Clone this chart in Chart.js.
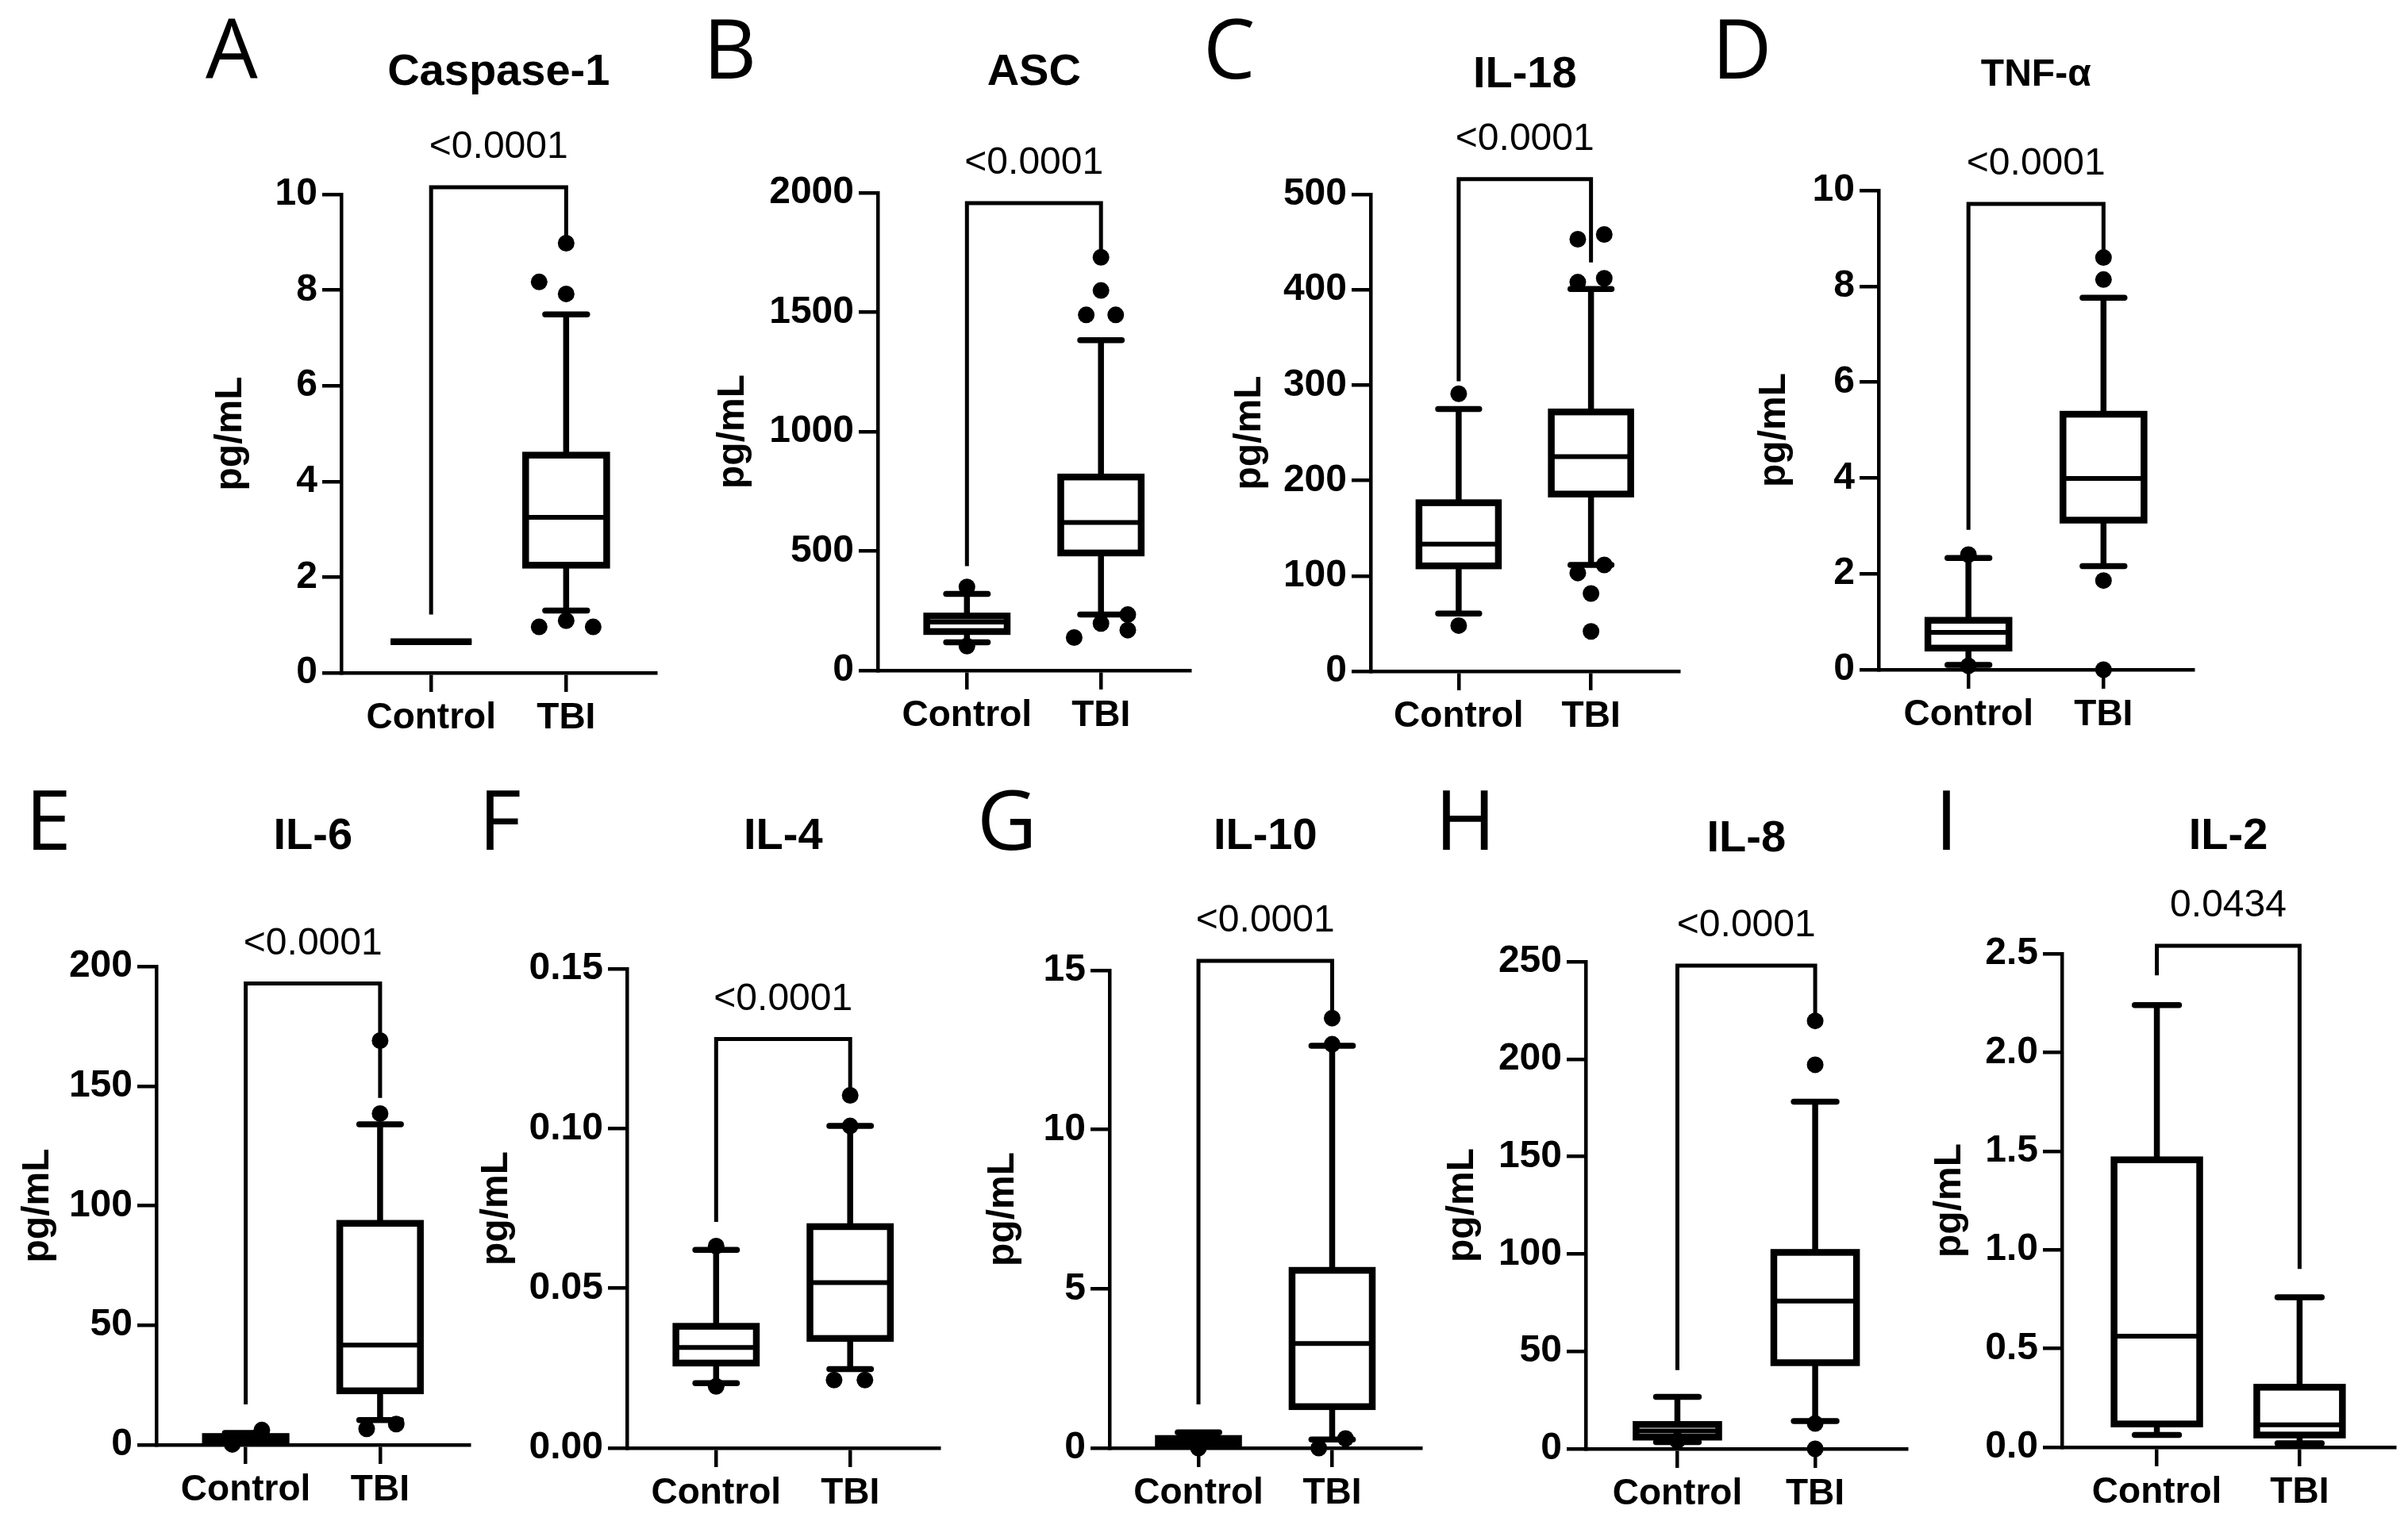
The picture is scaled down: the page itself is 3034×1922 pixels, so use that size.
<!DOCTYPE html>
<html>
<head>
<meta charset="utf-8">
<script src="https://cdn.jsdelivr.net/npm/chart.js@4.4.1/dist/chart.umd.min.js"></script>
<style>
  html, body { margin: 0; padding: 0; background: #fff; }
  #fig { position: relative; width: 3034px; height: 1922px; overflow: hidden; background: #fff; }
  #fig canvas { position: absolute; }
  .letter { position: absolute; font-family: 'Open Sans'; font-weight: 500; font-size: 104px; line-height: 1; color: #000; }
</style>
</head>
<body>
<div id="fig"></div>
<script>
const groups = ['Control', 'TBI'];
const panelLetters = ['A', 'B', 'C', 'D', 'E', 'F', 'G', 'H', 'I'];
const titles = ['Caspase-1', 'ASC', 'IL-18', 'TNF-α', 'IL-6', 'IL-4', 'IL-10', 'IL-8', 'IL-2'];
const pValues = ['<0.0001', '<0.0001', '<0.0001', '<0.0001', '<0.0001', '<0.0001', '<0.0001', '<0.0001', '0.0434'];
const yMax = [10, 2000, 500, 10, 200, 0.15, 15, 250, 2.5];
const yStep = [2, 500, 100, 2, 50, 0.05, 5, 50, 0.5];
const tickDecimals = [0, 0, 0, 0, 0, 2, 0, 0, 1];

// [min, q1, median, q3, max]
const controlStats = [
  [0.65, 0.65, 0.65, 0.65, 0.65],
  [118, 163, 203, 228, 321],
  [60.6, 110.5, 133.4, 176.7, 275],
  [0.1, 0.45, 0.78, 1.03, 2.33],
  [1.0, 1.3, 2.5, 3.5, 5.0],
  [0.0203, 0.0266, 0.0315, 0.0381, 0.062],
  [0.05, 0.12, 0.2, 0.3, 0.49],
  [3.5, 6, 9.2, 12.5, 26.7],
  [0.062, 0.118, 0.563, 1.456, 2.24]
];
const tbiStats = [
  [1.30, 2.25, 3.25, 4.55, 7.49],
  [234, 492, 620, 810, 1383],
  [111.5, 185.8, 225, 271.9, 400.7],
  [2.16, 3.12, 3.99, 5.33, 7.76],
  [10.4, 22.6, 41.7, 92.6, 134],
  [0.0247, 0.0343, 0.0518, 0.0693, 0.1008],
  [0.27, 1.3, 3.28, 5.58, 12.63],
  [14.2, 44.2, 75.8, 100.8, 178.1],
  [0.02, 0.062, 0.114, 0.304, 0.76]
];

// outliers: [group index + jitter, value]
const outliers = [
  [[1, 8.98], [0.8, 8.17], [1, 7.92], [0.8, 0.96], [1, 1.09], [1.2, 0.96]],
  [[0, 350], [0, 102], [1, 1730], [1, 1591], [0.89, 1489], [1.11, 1489], [1.2, 234], [1, 197], [1.2, 169], [0.8, 138]],
  [[0, 291], [0, 47.9], [0.9, 453], [1.1, 458], [0.9, 408], [1.1, 412], [0.9, 103], [1.1, 111.5], [1, 81.5], [1, 41.8]],
  [[0, 2.4], [0, 0.08], [1, 8.6], [1, 8.14], [1, 1.86], [1, 0]],
  [[0.12, 6.2], [-0.1, 0.2], [1, 169], [1, 138.5], [0.9, 6.7], [1.12, 8.7]],
  [[0, 0.0632], [0, 0.0193], [1, 0.1104], [1, 0.1008], [0.88, 0.0213], [1.11, 0.0213]],
  [[0, 0], [1, 13.5], [1, 12.68], [0.9, 0], [1.1, 0.3]],
  [[0, 4.2], [1, 219.6], [1, 197.1], [1, 13], [1, 0]],
  []
];

// significance bracket: [left leg end, top, right leg end]
const brackets = [
  [1.22, 10.15, 9.0],
  [437, 1957, 1730],
  [304, 516, 428.7],
  [2.92, 9.72, 8.45],
  [16.9, 192.9, 145],
  [0.0708, 0.128, 0.111],
  [1.37, 15.3, 13.75],
  [40.4, 248, 220],
  [2.39, 2.54, 0.903]
];

// page layout of each panel (pixels)
const frames = [
  { rowTop: 0, left: 261, axis: 430, end: 833, titleY: 92, top: 245, bottom: 848, letterX: 259, titleSize: 56 },
  { rowTop: 0, left: 894, axis: 1106, end: 1506, titleY: 92, top: 243, bottom: 845, letterX: 886, titleSize: 56 },
  { rowTop: 0, left: 1545, axis: 1727, end: 2122, titleY: 95, top: 245, bottom: 846, letterX: 1516, titleSize: 56 },
  { rowTop: 0, left: 2206, axis: 2367, end: 2770, titleY: 95, top: 240, bottom: 844, letterX: 2157, titleSize: 48 },
  { rowTop: 960, left: 18, axis: 197, end: 598, titleY: 1055, top: 1218, bottom: 1821, letterX: 32, titleSize: 56 },
  { rowTop: 960, left: 596, axis: 790, end: 1190, titleY: 1055, top: 1221, bottom: 1825, letterX: 603, titleSize: 56 },
  { rowTop: 960, left: 1234, axis: 1398, end: 1797, titleY: 1055, top: 1223, bottom: 1825, letterX: 1231, titleSize: 56 },
  { rowTop: 960, left: 1813, axis: 1998, end: 2409, titleY: 1058, top: 1212, bottom: 1826, letterX: 1808, titleSize: 56 },
  { rowTop: 960, left: 2427, axis: 2598, end: 3017, titleY: 1055, top: 1202, bottom: 1824, letterX: 2438, titleSize: 56 }
];
const letterCapTop = [25, 997];

const FONT = "'Liberation Sans', Arial, sans-serif";
const X_AXIS_H = 110;
const BOX_HALF = 0.30;
const CAP_HALF = 0.155;

const boxPlot = {
  id: 'boxPlot',
  beforeDatasetsDraw(chart, args, opts) {
    const { ctx, scales: { x, y } } = chart;
    const line = (x0, y0, x1, y1) => { ctx.beginPath(); ctx.moveTo(x0, y0); ctx.lineTo(x1, y1); ctx.stroke(); };
    ctx.save();
    ctx.strokeStyle = '#000';
    opts.stats.forEach((s, k) => {
      const [lo, q1, med, q3, hi] = s.map(v => y.getPixelForValue(v));
      const cx = x.getPixelForValue(k);
      const bw = x.getPixelForValue(k + BOX_HALF) - cx;
      const cw = x.getPixelForValue(k + CAP_HALF) - cx;
      ctx.lineWidth = 7.5;
      ctx.lineCap = 'butt';
      line(cx, lo, cx, hi);
      ctx.lineCap = 'round';
      line(cx - cw, lo, cx + cw, lo);
      line(cx - cw, hi, cx + cw, hi);
      ctx.lineCap = 'butt';
      ctx.lineWidth = 8.5;
      ctx.fillStyle = '#fff';
      ctx.fillRect(cx - bw, q3, 2 * bw, q1 - q3);
      ctx.strokeRect(cx - bw, q3, 2 * bw, q1 - q3);
      ctx.lineWidth = 6;
      line(cx - bw, med, cx + bw, med);
    });
    ctx.restore();
  },
  afterDatasetsDraw(chart, args, opts) {
    const { ctx, scales: { x, y } } = chart;
    const [lv, tv, rv] = opts.bracket;
    const x0 = x.getPixelForValue(0);
    const x1 = x.getPixelForValue(1);
    const yt = y.getPixelForValue(tv);
    ctx.save();
    ctx.strokeStyle = '#000';
    ctx.lineWidth = 5;
    ctx.beginPath();
    ctx.moveTo(x0, y.getPixelForValue(lv));
    ctx.lineTo(x0, yt);
    ctx.lineTo(x1, yt);
    ctx.lineTo(x1, y.getPixelForValue(rv));
    ctx.stroke();
    ctx.fillStyle = '#000';
    ctx.font = '48px ' + FONT;
    ctx.textAlign = 'center';
    ctx.textBaseline = 'middle';
    ctx.fillText(opts.label, (x0 + x1) / 2, yt - 50);
    ctx.restore();
  }
};

const fig = document.getElementById('fig');

panelLetters.forEach((letter, i) => {
  const f = frames[i];

  const div = document.createElement('div');
  div.className = 'letter';
  div.textContent = letter;
  div.style.left = f.letterX + 'px';
  div.style.top = (letterCapTop[f.rowTop ? 1 : 0] - 18) + 'px';
  fig.appendChild(div);

  const canvas = document.createElement('canvas');
  const w = f.end - f.left + 4;
  const h = f.bottom - f.rowTop + X_AXIS_H;
  canvas.width = w;
  canvas.height = h;
  canvas.style.left = f.left + 'px';
  canvas.style.top = f.rowTop + 'px';
  canvas.style.width = w + 'px';
  canvas.style.height = h + 'px';
  fig.appendChild(canvas);

  const titleLH = f.titleSize * 1.2;
  const padTop = f.titleY - f.rowTop - titleLH / 2;
  const padBottom = f.top - f.rowTop - padTop - titleLH;

  new Chart(canvas, {
    type: 'scatter',
    data: {
      datasets: [{
        data: outliers[i].map(p => ({ x: p[0], y: p[1] })),
        backgroundColor: '#000',
        borderColor: '#000',
        borderWidth: 0,
        pointRadius: 10.5,
        pointHoverRadius: 10.5,
        clip: false
      }]
    },
    options: {
      responsive: false,
      animation: false,
      devicePixelRatio: 1,
      events: [],
      layout: { padding: { left: 0, right: 4, top: 0, bottom: 0 } },
      plugins: {
        legend: { display: false },
        tooltip: { enabled: false },
        title: {
          display: true,
          text: titles[i],
          fullSize: false,
          color: '#000',
          font: { family: FONT, size: f.titleSize, weight: 'bold', lineHeight: 1.2 },
          padding: { top: padTop, bottom: padBottom }
        },
        boxPlot: {
          stats: [controlStats[i], tbiStats[i]],
          bracket: brackets[i],
          label: pValues[i]
        }
      },
      scales: {
        x: {
          type: 'linear',
          bounds: 'data',
          min: -0.665,
          max: 1.665,
          afterBuildTicks: s => { s.ticks = groups.map((g, k) => ({ value: k })); },
          afterFit: s => { s.height = X_AXIS_H; },
          ticks: {
            callback: v => groups[v],
            color: '#000',
            font: { family: FONT, size: 46, weight: 'bold' },
            padding: 6,
            autoSkip: false,
            maxRotation: 0
          },
          grid: { drawOnChartArea: false, tickLength: 24, lineWidth: 4.5, color: '#000' },
          border: { display: true, color: '#000', width: 4.5 }
        },
        y: {
          min: 0,
          max: yMax[i],
          afterFit: s => { s.width = f.axis - f.left; },
          ticks: {
            stepSize: yStep[i],
            callback: v => v.toFixed(tickDecimals[i]),
            color: '#000',
            font: { family: FONT, size: 48, weight: 'bold' },
            padding: 6
          },
          grid: { drawOnChartArea: false, tickLength: 24, lineWidth: 4.5, color: '#000' },
          border: { display: true, color: '#000', width: 4.5 },
          title: {
            display: true,
            text: 'pg/mL',
            color: '#000',
            font: { family: FONT, size: 48, weight: 'bold', lineHeight: 1.2 },
            padding: { top: 1, bottom: 0 }
          }
        }
      }
    },
    plugins: [boxPlot]
  });
});
</script>
</body>
</html>
